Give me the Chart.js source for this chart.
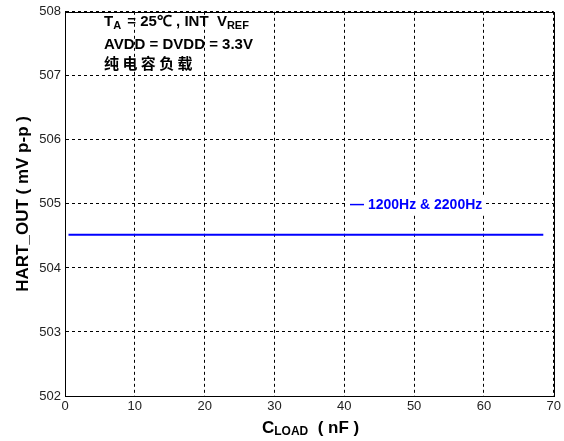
<!DOCTYPE html>
<html>
<head>
<meta charset="utf-8">
<script src="https://cdn.jsdelivr.net/npm/chart.js@4/dist/chart.umd.min.js"></script>
<style>
  html, body { margin: 0; padding: 0; background: #fff; }
  #wrap { width: 564px; height: 441px; }
</style>
</head>
<body>
<div id="wrap"><canvas id="grafico" width="564" height="441"></canvas></div>
<script>
// datos
const cargaNF = [0.5, 10, 20, 30, 40, 50, 60, 68.5];
const hartOut = [504.52, 504.52, 504.52, 504.52, 504.52, 504.52, 504.52, 504.52];
const xTicks = [0, 10, 20, 30, 40, 50, 60, 70];
const yTicks = [502, 503, 504, 505, 506, 507, 508];
const serieNombre = "1200Hz & 2200Hz";
const notas = ["AVDD = DVDD = 3.3V", "纯电容负载"];

const FONT = "'Liberation Sans', Arial, sans-serif";

// titulos de ejes, nota y leyenda dibujados a mano
const textosPlugin = {
  id: "textos",
  afterDraw(chart) {
    const c = chart.ctx;
    const a = chart.chartArea;
    c.save();
    c.fillStyle = "#000";
    c.textBaseline = "alphabetic";

    // nota superior izquierda
    let x = 104, y = 26;
    c.font = "bold 15px " + FONT;
    c.textAlign = "left";
    c.fillText("T", x, y);
    x += c.measureText("T").width;
    c.font = "bold 11px " + FONT;
    c.fillText("A", x, y + 3);
    x += c.measureText("A").width + 2;
    c.font = "bold 15px " + FONT;
    const t1 = " = 25℃ , INT  V";
    c.fillText(t1, x, y);
    x += c.measureText(t1).width;
    c.font = "bold 11px " + FONT;
    c.fillText("REF", x, y + 3);
    c.font = "bold 15px " + FONT;
    c.fillText(notas[0], 104, 49);
    c.font = "bold 15px 'Noto Sans CJK SC', sans-serif";
    c.fillText(notas[1].split("").join(" "), 104, 69);

    // titulo eje y
    c.save();
    c.translate(28, (a.top + a.bottom) / 2);
    c.rotate(-Math.PI / 2);
    c.textAlign = "center";
    c.font = "bold 17px " + FONT;
    c.fillText("HART_OUT ( mV p-p )", 0, 0);
    c.restore();

    // titulo eje x
    c.textAlign = "left";
    let xx = 262, yy = 433;
    c.font = "bold 17px " + FONT;
    c.fillText("C", xx, yy);
    xx += c.measureText("C").width;
    c.font = "bold 12px " + FONT;
    c.fillText("LOAD", xx, yy + 2);
    xx += c.measureText("LOAD").width;
    c.font = "bold 17px " + FONT;
    c.fillText("  ( nF )", xx, yy);

    // leyenda
    c.font = "bold 14px " + FONT;
    const etiqueta = "— " + serieNombre;
    const w = c.measureText(etiqueta).width;
    c.fillStyle = "#fff";
    c.fillRect(347, 196, w + 6, 17);
    c.fillStyle = "#0000FF";
    c.fillText(etiqueta, 350, 209);
    c.restore();
  }
};

function generarGrafico() {
  const ctx = document.getElementById("grafico").getContext("2d");
  new Chart(ctx, {
    type: "line",
    data: {
      datasets: [{
        label: serieNombre,
        data: cargaNF.map((v, i) => ({ x: v, y: hartOut[i] })),
        borderColor: "#0000FF",
        borderWidth: 2,
        pointRadius: 0,
        tension: 0,
        fill: false
      }]
    },
    options: {
      responsive: false,
      animation: false,
      layout: { padding: { left: 0, top: 9, right: 10, bottom: 0 } },
      plugins: { legend: { display: false }, tooltip: { enabled: false } },
      scales: {
        x: {
          type: "linear",
          min: 0, max: 70,
          afterBuildTicks: (s) => { s.ticks = xTicks.map((v) => ({ value: v })); },
          afterFit: (s) => { s.height = 45; },
          grid: { color: "#000", lineWidth: 1, drawTicks: false },
          border: { color: "#000", width: 1, dash: [3, 3] },
          ticks: { color: "#222", font: { family: FONT, size: 13 }, padding: 3, maxRotation: 0 }
        },
        y: {
          min: 502, max: 508,
          afterBuildTicks: (s) => { s.ticks = yTicks.map((v) => ({ value: v })); },
          afterFit: (s) => { s.width = 65; },
          grid: { color: "#000", lineWidth: 1, drawTicks: false },
          border: { color: "#000", width: 1, dash: [3, 3] },
          ticks: { color: "#222", font: { family: FONT, size: 13 }, padding: 4 }
        }
      }
    },
    plugins: [textosPlugin, {
      id: "marco",
      beforeDatasetsDraw(chart) {
        const a = chart.chartArea;
        const c = chart.ctx;
        c.save();
        c.strokeStyle = "#000";
        c.lineWidth = 1;
        c.strokeRect(Math.round(a.left) + 0.5, Math.round(a.top) + 0.5, Math.round(a.right - a.left), Math.round(a.bottom - a.top));
        c.restore();
      }
    }]
  });
}

document.addEventListener("DOMContentLoaded", generarGrafico);
</script>
</body>
</html>
